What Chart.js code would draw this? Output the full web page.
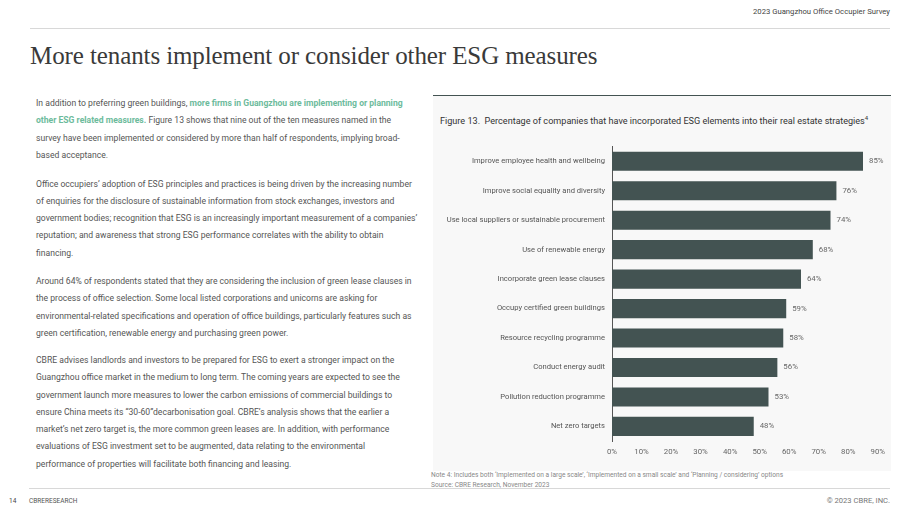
<!DOCTYPE html>
<html><head><meta charset="utf-8">
<script src="https://cdn.jsdelivr.net/npm/chart.js@4.4.1/dist/chart.umd.min.js"></script>
<style>
html,body{margin:0;padding:0;}
body{width:920px;height:518px;background:#fff;position:relative;overflow:hidden;font-family:Roboto,"Noto Sans",sans-serif;color:#555;}
.abs{position:absolute;white-space:nowrap;}
#survey{right:30px;top:7px;font-size:7.7px;color:#444;}
#topline{left:30px;width:860px;top:28px;height:1px;background:#d8d8d8;}
#heading{left:30px;top:42px;font-family:"Liberation Serif",serif;font-size:25px;color:#3a3a3a;letter-spacing:-0.1px;}
.para{left:36px;font-size:8.6px;line-height:17.3px;color:#555;}
.green{color:#6dbb9c;font-weight:bold;}
#panel{left:433px;top:95px;width:458px;height:375px;background:#f8f8f8;border-top:1.5px solid #435352;}
#figtitle{left:440px;top:114px;font-size:9.1px;color:#333;}
#figtitle sup{font-size:6px;}
#chartwrap{position:absolute;left:433px;top:135px;width:458px;height:335px;}
#note{left:431px;top:470px;font-size:6.6px;color:#888;line-height:10px;}
#botline{left:29px;width:861px;top:488px;height:1px;background:#d8d8d8;}
#pnum{left:9px;top:497px;font-size:6.5px;color:#444;}
#cbre{left:29px;top:497px;font-size:6.5px;color:#555;}
#copy{right:30px;top:496px;font-size:7.6px;color:#777;}
</style></head><body>
<div class="abs" id="survey">2023 Guangzhou Office Occupier Survey</div>
<div class="abs" id="topline"></div>
<div class="abs" id="heading">More tenants implement or consider other ESG measures</div>

<div class="abs para" style="top:95px">In addition to preferring green buildings, <span class="green">more firms in Guangzhou are implementing or planning</span><br><span class="green">other ESG related measures.</span> Figure 13 shows that nine out of the ten measures named in the<br>survey have been implemented or considered by more than half of respondents, implying broad-<br>based acceptance.</div>

<div class="abs para" style="top:175.5px">Office occupiers’ adoption of ESG principles and practices is being driven by the increasing number<br>of enquiries for the disclosure of sustainable information from stock exchanges, investors and<br>government bodies; recognition that ESG is an increasingly important measurement of a companies’<br>reputation; and awareness that strong ESG performance correlates with the ability to obtain<br>financing.</div>

<div class="abs para" style="top:273px">Around 64% of respondents stated that they are considering the inclusion of green lease clauses in<br>the process of office selection. Some local listed corporations and unicorns are asking for<br>environmental-related specifications and operation of office buildings, particularly features such as<br>green certification, renewable energy and purchasing green power.</div>

<div class="abs para" style="top:352px">CBRE advises landlords and investors to be prepared for ESG to exert a stronger impact on the<br>Guangzhou office market in the medium to long term. The coming years are expected to see the<br>government launch more measures to lower the carbon emissions of commercial buildings to<br>ensure China meets its “30-60”decarbonisation goal. CBRE’s analysis shows that the earlier a<br>market’s net zero target is, the more common green leases are. In addition, with performance<br>evaluations of ESG investment set to be augmented, data relating to the environmental<br>performance of properties will facilitate both financing and leasing.</div>

<div class="abs" id="panel"></div>
<div class="abs" id="figtitle">Figure 13.&nbsp; Percentage of companies that have incorporated ESG elements into their real estate strategies<sup>4</sup></div>
<div id="chartwrap"><canvas id="c"></canvas></div>
<div class="abs" id="note">Note 4: Includes both ‘Implemented on a large scale’, ‘Implemented on a small scale’ and ‘Planning / considering’ options<br>Source: CBRE Research, November 2023</div>
<div class="abs" id="botline"></div>
<div class="abs" id="pnum">14</div>
<div class="abs" id="cbre">CBRERESEARCH</div>
<div class="abs" id="copy">© 2023 CBRE, INC.</div>

<script>
const categories = [
  "Improve employee health and wellbeing",
  "Improve social equality and diversity",
  "Use local suppliers or sustainable procurement",
  "Use of renewable energy",
  "Incorporate green lease clauses",
  "Occupy certified green buildings",
  "Resource recycling programme",
  "Conduct energy audit",
  "Pollution reduction programme",
  "Net zero targets"
];
const values = [85, 76, 74, 68, 64, 59, 58, 56, 53, 48];
const xTickValues = [0, 10, 20, 30, 40, 50, 60, 70, 80, 90];
const valueSuffix = "%";

const valueLabels = {
  id: 'valueLabels',
  afterDatasetsDraw(chart) {
    const ctx = chart.ctx;
    const meta = chart.getDatasetMeta(0);
    ctx.save();
    ctx.font = '7.8px Roboto';
    ctx.fillStyle = '#666';
    ctx.textAlign = 'left';
    ctx.textBaseline = 'middle';
    meta.data.forEach((bar, i) => {
      ctx.fillText(values[i] + valueSuffix, bar.x + 6, bar.y);
    });
    ctx.restore();
  }
};

new Chart(document.getElementById('c'), {
  type: 'bar',
  data: {
    labels: categories,
    datasets: [{
      data: values,
      backgroundColor: '#435352',
      borderWidth: 0,
      categoryPercentage: 1,
      barPercentage: 0.65
    }]
  },
  options: {
    indexAxis: 'y',
    responsive: true,
    maintainAspectRatio: false,
    animation: false,
    events: [],
    layout: { padding: { top: 11.5, bottom: 7.5, left: 0, right: 12 } },
    plugins: { legend: { display: false }, tooltip: { enabled: false } },
    scales: {
      x: {
        min: 0, max: 90,
        afterBuildTicks(s) { s.ticks = xTickValues.map(v => ({ value: v })); },
        grid: { display: false, drawTicks: false },
        border: { display: false },
        ticks: {
          padding: 6,
          color: '#666',
          font: { family: 'Roboto', size: 7.8 },
          callback: v => v + valueSuffix
        }
      },
      y: {
        grid: { display: false, drawTicks: false },
        border: { display: true, color: '#555', width: 1 },
        afterFit(s) { s.width = 179; },
        ticks: {
          padding: 7,
          color: '#555',
          font: { family: 'Roboto', size: 7.6 },
          autoSkip: false
        }
      }
    }
  },
  plugins: [valueLabels]
});
</script>
</body></html>
